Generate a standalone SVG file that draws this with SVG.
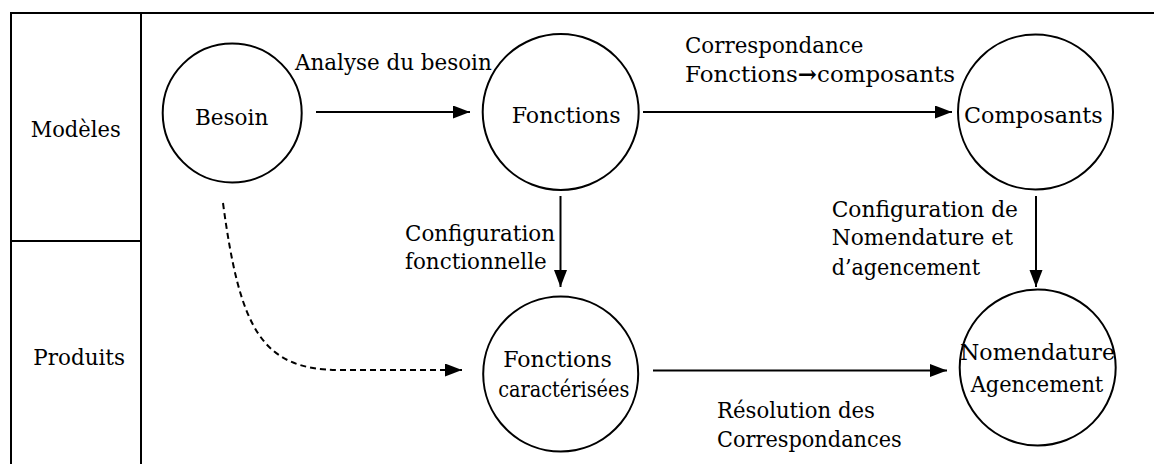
<svg xmlns="http://www.w3.org/2000/svg" width="1154" height="464" viewBox="0 0 1154 464">
<style>
text{font-family:"DejaVu Serif","Liberation Serif",serif;font-size:23px;fill:#000}
.frame{stroke:#000;stroke-width:2;fill:none}
.node{stroke:#000;stroke-width:2;fill:#fff}
.c{stroke:#000;stroke-width:2;fill:none}
.d{stroke:#000;stroke-width:2;fill:none;stroke-dasharray:6 4}
</style>
<defs>
<marker id="ah" markerUnits="userSpaceOnUse" markerWidth="18" markerHeight="14" refX="17" refY="6.5" orient="auto">
<path d="M0,0 L17,6.5 L0,13 z" fill="#000"/>
</marker>
</defs>
<rect width="1154" height="464" fill="#fff"/>
<g id="frame">
<path class="frame" d="M11,464 V13 H1154 M141,13 V464 M11,241 H141"/>
<text x="30.7" y="136.7" textLength="90" lengthAdjust="spacingAndGlyphs">Modèles</text>
<text x="33.3" y="365" textLength="91.7" lengthAdjust="spacingAndGlyphs">Produits</text>
</g>
<g id="connectors">
<line class="c" x1="316" y1="112" x2="470" y2="112" marker-end="url(#ah)"/>
<line class="c" x1="643" y1="112" x2="952" y2="112" marker-end="url(#ah)"/>
<line class="c" x1="560.5" y1="196" x2="560.5" y2="287" marker-end="url(#ah)"/>
<line class="c" x1="1036" y1="196" x2="1036" y2="287" marker-end="url(#ah)"/>
<line class="c" x1="653" y1="370.5" x2="947" y2="370.5" marker-end="url(#ah)"/>
<path class="d" d="M223,203 C240,330 262,370 340,370 L462,370" marker-end="url(#ah)"/>
<text x="295" y="70" textLength="196.7" lengthAdjust="spacingAndGlyphs">Analyse du besoin</text>
<text x="685" y="52.7" textLength="178.3" lengthAdjust="spacingAndGlyphs">Correspondance</text>
<text x="685" y="81.7" textLength="270" lengthAdjust="spacingAndGlyphs">Fonctions<tspan font-weight="bold">→</tspan>composants</text>
<text x="405" y="241" textLength="150" lengthAdjust="spacingAndGlyphs">Configuration</text>
<text x="405" y="269.3" textLength="141.7" lengthAdjust="spacingAndGlyphs">fonctionnelle</text>
<text x="831.7" y="216.7" textLength="186.3" lengthAdjust="spacingAndGlyphs">Configuration de</text>
<text x="831.7" y="245" textLength="181.3" lengthAdjust="spacingAndGlyphs">Nomendature et</text>
<text x="831.7" y="275" textLength="148.3" lengthAdjust="spacingAndGlyphs">d’agencement</text>
<text x="717" y="418.3" textLength="158" lengthAdjust="spacingAndGlyphs">Résolution des</text>
<text x="717" y="446.7" textLength="184.7" lengthAdjust="spacingAndGlyphs">Correspondances</text>
</g>
<g id="besoin">
<circle class="node" cx="232.2" cy="113" r="69.5"/>
<text x="195" y="125" textLength="73.3" lengthAdjust="spacingAndGlyphs">Besoin</text>
</g>
<g id="fonctions">
<circle class="node" cx="560.7" cy="112" r="78"/>
<text x="511.7" y="123.3" textLength="109" lengthAdjust="spacingAndGlyphs">Fonctions</text>
</g>
<g id="composants">
<circle class="node" cx="1035.5" cy="112" r="77.5"/>
<text x="964" y="123.3" textLength="138.7" lengthAdjust="spacingAndGlyphs">Composants</text>
</g>
<g id="fonctions-caracterisees">
<circle class="node" cx="560.7" cy="374" r="77.5"/>
<text x="503.3" y="367.3" textLength="108.4" lengthAdjust="spacingAndGlyphs">Fonctions</text>
<text x="498.3" y="396.7" textLength="131" lengthAdjust="spacingAndGlyphs">caractérisées</text>
</g>
<g id="nomendature">
<circle class="node" cx="1037.7" cy="367.5" r="78"/>
<text x="960" y="360" textLength="155" lengthAdjust="spacingAndGlyphs">Nomendature</text>
<text x="970.7" y="391.7" textLength="132.6" lengthAdjust="spacingAndGlyphs">Agencement</text>
</g>
</svg>
